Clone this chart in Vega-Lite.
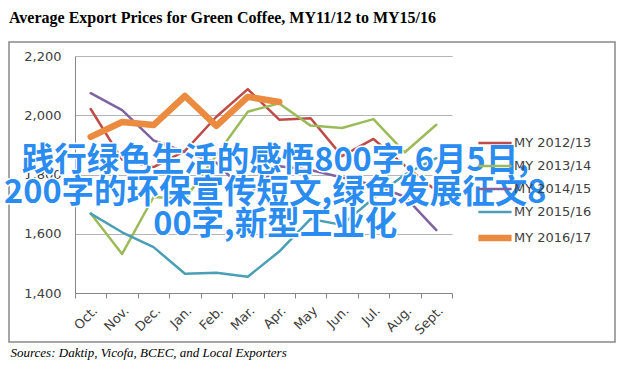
{
  "$schema": "https://vega.github.io/schema/vega-lite/v6.json",
  "width": 606,
  "height": 300,
  "autosize": "none",
  "padding": {"left": 9, "top": 42, "right": 13, "bottom": 30},
  "background": "white",
  "config": {
    "view": {"stroke": "#898989", "strokeWidth": 1.5},
    "font": "DejaVu Sans"
  },
  "title": {
    "text": "Average Export Prices for Green Coffee, MY11/12 to MY15/16",
    "anchor": "start",
    "frame": "group",
    "font": "Liberation Serif",
    "fontSize": 16,
    "fontWeight": "bold",
    "color": "#000000",
    "baseline": "alphabetic",
    "offset": 3
  },
  "data": {
    "values": [
      {"series": "MY 2012/13", "month": "Oct.", "price": 2021},
      {"series": "MY 2012/13", "month": "Nov.", "price": 1850},
      {"series": "MY 2012/13", "month": "Dec.", "price": 1825},
      {"series": "MY 2012/13", "month": "Jan.", "price": 1880},
      {"series": "MY 2012/13", "month": "Feb.", "price": 1995},
      {"series": "MY 2012/13", "month": "Mar.", "price": 2088},
      {"series": "MY 2012/13", "month": "Apr.", "price": 1985},
      {"series": "MY 2012/13", "month": "May", "price": 1990},
      {"series": "MY 2012/13", "month": "Jun.", "price": 1862},
      {"series": "MY 2012/13", "month": "Jul.", "price": 1920},
      {"series": "MY 2012/13", "month": "Aug.", "price": 1830},
      {"series": "MY 2012/13", "month": "Sept.", "price": 1745},
      {"series": "MY 2013/14", "month": "Oct.", "price": 1668},
      {"series": "MY 2013/14", "month": "Nov.", "price": 1532},
      {"series": "MY 2013/14", "month": "Dec.", "price": 1724},
      {"series": "MY 2013/14", "month": "Jan.", "price": 1717},
      {"series": "MY 2013/14", "month": "Feb.", "price": 1865},
      {"series": "MY 2013/14", "month": "Mar.", "price": 2012},
      {"series": "MY 2013/14", "month": "Apr.", "price": 2040},
      {"series": "MY 2013/14", "month": "May", "price": 1965},
      {"series": "MY 2013/14", "month": "Jun.", "price": 1957},
      {"series": "MY 2013/14", "month": "Jul.", "price": 1987},
      {"series": "MY 2013/14", "month": "Aug.", "price": 1875},
      {"series": "MY 2013/14", "month": "Sept.", "price": 1968},
      {"series": "MY 2014/15", "month": "Oct.", "price": 2075},
      {"series": "MY 2014/15", "month": "Nov.", "price": 2017},
      {"series": "MY 2014/15", "month": "Dec.", "price": 1915},
      {"series": "MY 2014/15", "month": "Jan.", "price": 1876},
      {"series": "MY 2014/15", "month": "Feb.", "price": 1840},
      {"series": "MY 2014/15", "month": "Mar.", "price": 1732},
      {"series": "MY 2014/15", "month": "Apr.", "price": 1828},
      {"series": "MY 2014/15", "month": "May", "price": 1815},
      {"series": "MY 2014/15", "month": "Jun.", "price": 1790},
      {"series": "MY 2014/15", "month": "Jul.", "price": 1765},
      {"series": "MY 2014/15", "month": "Aug.", "price": 1725},
      {"series": "MY 2014/15", "month": "Sept.", "price": 1612},
      {"series": "MY 2015/16", "month": "Oct.", "price": 1668},
      {"series": "MY 2015/16", "month": "Nov.", "price": 1605},
      {"series": "MY 2015/16", "month": "Dec.", "price": 1555},
      {"series": "MY 2015/16", "month": "Jan.", "price": 1465},
      {"series": "MY 2015/16", "month": "Feb.", "price": 1468},
      {"series": "MY 2015/16", "month": "Mar.", "price": 1455},
      {"series": "MY 2015/16", "month": "Apr.", "price": 1540},
      {"series": "MY 2015/16", "month": "May", "price": 1650},
      {"series": "MY 2015/16", "month": "Jun.", "price": 1630},
      {"series": "MY 2015/16", "month": "Jul.", "price": 1720},
      {"series": "MY 2015/16", "month": "Aug.", "price": 1800},
      {"series": "MY 2015/16", "month": "Sept.", "price": 1855},
      {"series": "MY 2016/17", "month": "Oct.", "price": 1927},
      {"series": "MY 2016/17", "month": "Nov.", "price": 1977},
      {"series": "MY 2016/17", "month": "Dec.", "price": 1967},
      {"series": "MY 2016/17", "month": "Jan.", "price": 2065},
      {"series": "MY 2016/17", "month": "Feb.", "price": 1964},
      {"series": "MY 2016/17", "month": "Mar.", "price": 2062},
      {"series": "MY 2016/17", "month": "Apr.", "price": 2045}
    ]
  },
  "layer": [
    {
      "mark": {"type": "line", "strokeJoin": "round", "strokeCap": "round"},
      "encoding": {
        "x": {
          "field": "month",
          "type": "nominal",
          "sort": ["Oct.", "Nov.", "Dec.", "Jan.", "Feb.", "Mar.", "Apr.", "May", "Jun.", "Jul.", "Aug.", "Sept."],
          "scale": {"type": "band", "range": [66, 443], "paddingInner": 0, "paddingOuter": 0},
          "axis": {
            "offset": -49,
            "tickBand": "extent",
            "tickSize": 5,
            "tickColor": "#868686",
            "domainColor": "#868686",
            "labelAngle": -45,
            "labelPadding": 6,
            "labelFont": "DejaVu Sans",
            "labelFontSize": 13,
            "labelColor": "#404040",
            "labelOverlap": false,
            "grid": false,
            "title": "Sources: Daktip, Vicofa, BCEC, and Local Exporters",
            "titleFont": "Liberation Serif",
            "titleFontStyle": "italic",
            "titleFontWeight": "normal",
            "titleFontSize": 13,
            "titleColor": "#000000",
            "titleAlign": "left",
            "titleAnchor": "start",
            "titleBaseline": "alphabetic",
            "titleX": 1,
            "titleY": 63
          }
        },
        "y": {
          "field": "price",
          "type": "quantitative",
          "scale": {"domain": [1400, 2200], "range": [251, 14], "nice": false, "zero": false},
          "axis": {
            "values": [1400, 1500, 1600, 1700, 1800, 1900, 2000, 2100, 2200],
            "format": ",.0f",
            "offset": -66,
            "grid": true,
            "gridColor": "#b4b4b4",
            "gridWidth": 1,
            "domainColor": "#868686",
            "ticks": false,
            "labelPadding": 14,
            "labelFont": "DejaVu Sans",
            "labelFontSize": 13,
            "labelColor": "#404040",
            "labelOverlap": false,
            "labelBound": false,
            "labelFlush": false,
            "title": null
          }
        },
        "color": {
          "field": "series",
          "type": "nominal",
          "scale": {
            "domain": ["MY 2012/13", "MY 2013/14", "MY 2014/15", "MY 2015/16", "MY 2016/17"],
            "range": ["#BE4B48", "#9BBB59", "#7F63A1", "#4A9FB5", "#EB8B3F"]
          },
          "legend": {
            "title": null,
            "orient": "none",
            "legendX": 474,
            "legendY": 91,
            "padding": 0,
            "symbolType": "M-1.9,0H1.9",
            "symbolSize": 306,
            "labelFont": "DejaVu Sans",
            "labelFontSize": 13,
            "labelColor": "#404040",
            "labelOffset": 7,
            "rowPadding": 6
          }
        },
        "strokeWidth": {
          "field": "series",
          "type": "nominal",
          "scale": {
            "type": "ordinal",
            "domain": ["MY 2012/13", "MY 2013/14", "MY 2014/15", "MY 2015/16", "MY 2016/17"],
            "range": [2.5, 2.5, 2.5, 2.5, 6.5]
          }
        }
      }
    },
    {
      "data": {"values": [{}]},
      "mark": {
        "type": "text",
        "text": ["践行绿色生活的感悟800字,6月5日,", "200字的环保宣传短文,绿色发展征文8", "00字,新型工业化"],
        "font": "Noto Sans CJK SC",
        "fontSize": 32.5,
        "fontWeight": "bold",
        "lineHeight": 32,
        "align": "center",
        "baseline": "middle",
        "dx": -4,
        "color": "#ffffff",
        "stroke": "#ffffff",
        "strokeWidth": 3,
        "strokeJoin": "round"
      },
      "encoding": {
        "x": {"datum": "Apr."},
        "y": {"datum": 1846, "type": "quantitative"}
      }
    },
    {
      "data": {"values": [{}]},
      "mark": {
        "type": "text",
        "text": ["践行绿色生活的感悟800字,6月5日,", "200字的环保宣传短文,绿色发展征文8", "00字,新型工业化"],
        "font": "Noto Sans CJK SC",
        "fontSize": 32.5,
        "fontWeight": "bold",
        "lineHeight": 32,
        "align": "center",
        "baseline": "middle",
        "dx": -4,
        "color": "#2a8cf0"
      },
      "encoding": {
        "x": {"datum": "Apr."},
        "y": {"datum": 1846, "type": "quantitative"}
      }
    }
  ]
}
